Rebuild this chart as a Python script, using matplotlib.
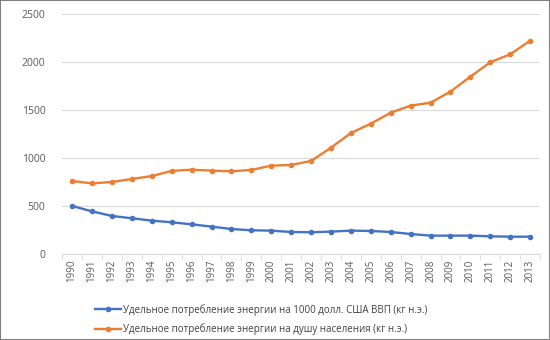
import matplotlib
matplotlib.use("Agg")
import matplotlib.pyplot as plt
import numpy as np

years = [str(y) for y in range(1990, 2014)]
per_gdp = [500, 444, 396, 372, 347, 330, 309, 285, 260, 247, 243, 229,
           226, 233, 243, 240, 229, 208, 191, 191, 191, 184, 180, 180]
per_capita = [760, 735, 750, 781, 812, 865, 878, 868, 861, 875, 920, 927,
              969, 1107, 1260, 1357, 1472, 1545, 1576, 1691, 1847, 1997, 2080, 2222]
labels = ["Удельное потребление энергии на 1000 долл. США ВВП (кг н.э.)",
          "Удельное потребление энергии на душу населения (кг н.э.)"]

plt.rcParams["font.family"] = ["Open Sans", "DejaVu Sans"]

fig = plt.figure(figsize=(5.5, 3.4), dpi=100)
ax = fig.add_axes([0.113, 0.253, 0.869, 0.706])
x = np.arange(len(years))

ax.plot(x, per_gdp, color="#4472C4", lw=1.7, marker="o", ms=3, label=labels[0])
ax.plot(x, per_capita, color="#ED7D31", lw=1.7, marker="o", ms=3, label=labels[1])

ax.set_xlim(-0.5, len(years) - 0.5)
ax.set_ylim(0, 2500)
ax.set_yticks(range(0, 2501, 500))
ax.grid(axis="y", color="#d9d9d9", lw=0.8)
ax.set_axisbelow(True)

ax.set_xticks(x)
ax.set_xticklabels(years, rotation=90, fontsize=7, color="#595959")
ax.tick_params(axis="x", which="major", length=0, pad=4)
ax.set_xticks(np.arange(-0.5, len(years)), minor=True)
ax.tick_params(axis="x", which="minor", length=4, color="#d9d9d9")
ax.tick_params(axis="y", length=0, labelsize=7.5, labelcolor="#595959", pad=12)

for s in ["top", "right", "left"]:
    ax.spines[s].set_visible(False)
ax.spines["bottom"].set_color("#d9d9d9")

fig.legend(loc="upper center", bbox_to_anchor=(0.475, 0.12), ncol=1, frameon=False,
           fontsize=7, labelcolor="#404040", handlelength=2.6, handletextpad=0.2,
           labelspacing=0.75, borderpad=0)

fig.add_artist(plt.Rectangle((0, 0), 1, 1, transform=fig.transFigure,
                             fill=False, edgecolor="#7f7f7f", lw=1.5))

fig.savefig("out.png", dpi=100)
